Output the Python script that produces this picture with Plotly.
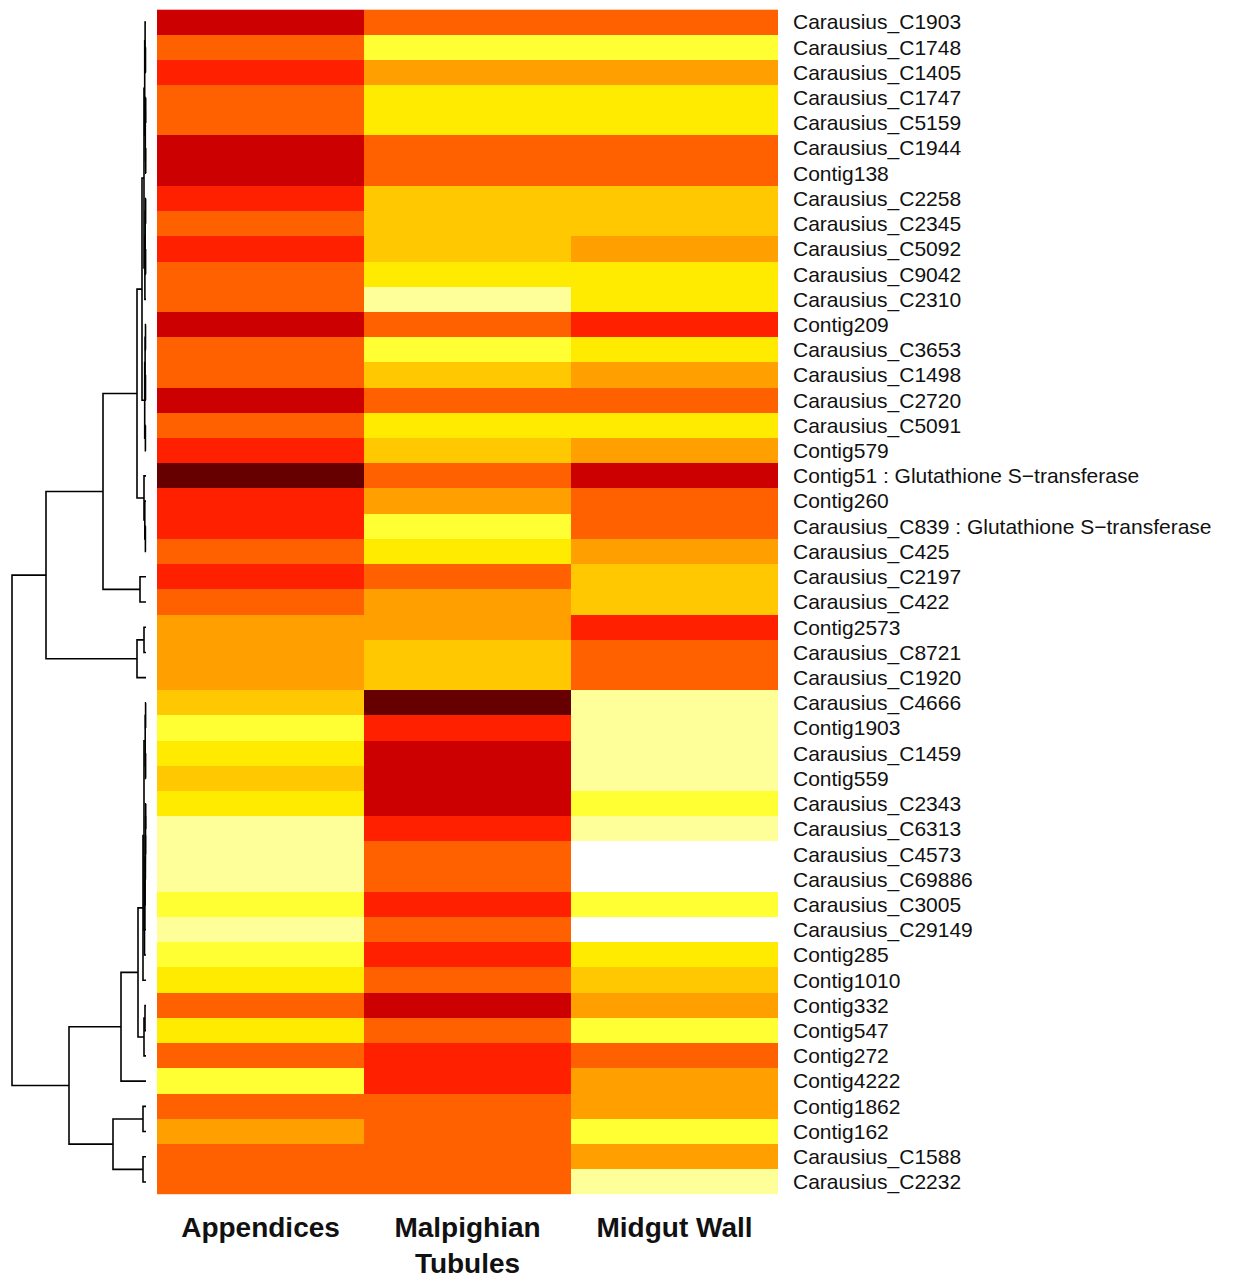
import plotly.graph_objects as go

# ---------------- data ----------------
genes = ["Carausius_C1903", "Carausius_C1748", "Carausius_C1405", "Carausius_C1747",
         "Carausius_C5159", "Carausius_C1944", "Contig138", "Carausius_C2258",
         "Carausius_C2345", "Carausius_C5092", "Carausius_C9042", "Carausius_C2310",
         "Contig209", "Carausius_C3653", "Carausius_C1498", "Carausius_C2720",
         "Carausius_C5091", "Contig579", "Contig51 : Glutathione S\u2212transferase",
         "Contig260", "Carausius_C839 : Glutathione S\u2212transferase", "Carausius_C425",
         "Carausius_C2197", "Carausius_C422", "Contig2573", "Carausius_C8721",
         "Carausius_C1920", "Carausius_C4666", "Contig1903", "Carausius_C1459",
         "Contig559", "Carausius_C2343", "Carausius_C6313", "Carausius_C4573",
         "Carausius_C69886", "Carausius_C3005", "Carausius_C29149", "Contig285",
         "Contig1010", "Contig332", "Contig547", "Contig272", "Contig4222",
         "Contig1862", "Contig162", "Carausius_C1588", "Carausius_C2232"]

tissues = ["Appendices", "Malpighian<br>Tubules", "Midgut Wall"]

# expression level class (0 = lowest / white ... 9 = highest / dark maroon)
appendices = [8, 6, 7, 6, 6, 8, 8, 7, 6, 7, 6, 6, 8, 6, 6, 8, 6, 7, 9, 7, 7, 6, 7, 6,
              5, 5, 5, 4, 2, 3, 4, 3, 1, 1, 1, 2, 1, 2, 3, 6, 3, 6, 2, 6, 5, 6, 6]
malpighian = [6, 2, 5, 3, 3, 6, 6, 4, 4, 4, 3, 1, 6, 2, 4, 6, 3, 4, 6, 5, 2, 3, 6, 5,
              5, 4, 4, 9, 7, 8, 8, 8, 7, 6, 6, 7, 6, 7, 6, 8, 6, 7, 7, 6, 6, 6, 6]
midgut = [6, 2, 5, 3, 3, 6, 6, 4, 4, 5, 3, 3, 7, 3, 5, 6, 3, 5, 8, 6, 6, 5, 4, 4,
          7, 6, 6, 1, 1, 1, 1, 2, 1, 0, 0, 2, 0, 3, 4, 5, 2, 6, 5, 5, 2, 5, 1]

level_colors = ["#FFFFFF", "#FFFF99", "#FFFF33", "#FFEB00", "#FFC800",
                "#FFA000", "#FF6000", "#FF2000", "#CC0000", "#660000"]

# dendrogram merges (scipy-like): leaves 0..46, merge k gets id 47+k
merge_left = [3, 5, 47, 1, 0, 51, 7, 9, 53, 55, 52, 12, 14, 58, 16, 60, 57, 20, 19, 18,
              63, 22, 67, 24, 70, 69,
              27, 29, 73, 31, 76, 77, 78, 79, 80, 75, 82, 39, 84, 83, 86, 43, 45, 88, 87,
              72]
merge_right = [4, 6, 48, 2, 50, 49, 8, 10, 54, 11, 56, 13, 15, 59, 17, 61, 62, 21, 64, 65,
               66, 23, 68, 25, 26, 71,
               28, 30, 74, 32, 33, 34, 35, 36, 37, 81, 38, 40, 41, 85, 42, 44, 46, 89, 90,
               91]
merge_height = [0.3, 0.3, 0.7, 0.5, 0.9, 1.3, 0.4, 0.4, 0.8, 1.1, 2.0, 0.5, 0.5, 0.9, 0.6,
                1.3, 4.0, 0.6, 1.2, 2.0, 9.0, 6.0, 43.0, 2.0, 9.0, 100.0,
                0.4, 0.4, 0.8, 0.3, 0.5, 0.6, 0.9, 1.2, 1.5, 2.0, 3.0, 1.0, 2.0, 8.0, 25.0,
                3.0, 3.0, 33.0, 77.0, 134.0]

# ---------------- build ----------------
n = len(genes)
z = [[appendices[i], malpighian[i], midgut[i]] for i in range(n)]

nl = len(level_colors)
colorscale = []
for k, c in enumerate(level_colors):
    colorscale.append([k / nl, c])
    colorscale.append([(k + 1) / nl, c])

# dendrogram line coordinates derived from merges
pos = {i: float(i) for i in range(n)}
hgt = {i: 0.0 for i in range(n)}
dx, dy = [], []
for k, (a, b, h) in enumerate(zip(merge_left, merge_right, merge_height)):
    nid = n + k
    dx += [hgt[a], h, h, hgt[b], None]
    dy += [pos[a], pos[a], pos[b], pos[b], None]
    pos[nid] = (pos[a] + pos[b]) / 2
    hgt[nid] = h

# page body has an 8px margin -> figure placed at (8, 8)
OFF = 8
W, H = 1251 - OFF, 1281 - OFF
hm_left, hm_right = 157 - OFF, 778 - OFF
hm_top, hm_bottom = 9.4 - OFF, 1194.6 - OFF
leaf_px, root_px = 146 - OFF, 12 - OFF
scale = (leaf_px - root_px) / 134.0
x2_lo = leaf_px / scale                     # value at pixel 0
x2_hi = (leaf_px - hm_left) / scale         # value at heatmap left edge

fig = go.Figure()
fig.add_trace(go.Heatmap(
    z=z, x=[0, 1, 2], y=list(range(n)),
    colorscale=colorscale, zmin=-0.5, zmax=nl - 0.5,
    showscale=False, xaxis="x", yaxis="y", hoverinfo="skip"))
fig.add_trace(go.Scatter(
    x=dx, y=dy, mode="lines", line=dict(color="black", width=1.6),
    xaxis="x2", yaxis="y", showlegend=False, hoverinfo="skip"))

fig.update_layout(
    width=W, height=H, autosize=False,
    margin=dict(l=0, r=0, t=0, b=0),
    paper_bgcolor="white", plot_bgcolor="white",
    showlegend=False,
    xaxis=dict(domain=[hm_left / W, hm_right / W], range=[-0.5, 2.5],
               tickvals=[0, 1, 2], ticktext=tissues, ticks="",
               showgrid=False, zeroline=False, showline=False,
               tickfont=dict(family="Liberation Sans, Arial", size=28, color="#111",
                             weight="bold"),
               ticklabelstandoff=13, anchor="y"),
    yaxis=dict(domain=[1 - hm_bottom / H, 1 - hm_top / H], range=[n - 0.5, -0.5],
               tickvals=list(range(n)), ticktext=genes, side="right", ticks="",
               showgrid=False, zeroline=False, showline=False,
               tickfont=dict(family="Liberation Sans, Arial", size=21, color="#111"),
               ticklabelstandoff=14, anchor="x"),
    xaxis2=dict(domain=[0, hm_left / W], range=[x2_lo, x2_hi], anchor="y",
                showgrid=False, zeroline=False, showline=False,
                showticklabels=False, ticks=""),
)

fig.write_html("out.html")
